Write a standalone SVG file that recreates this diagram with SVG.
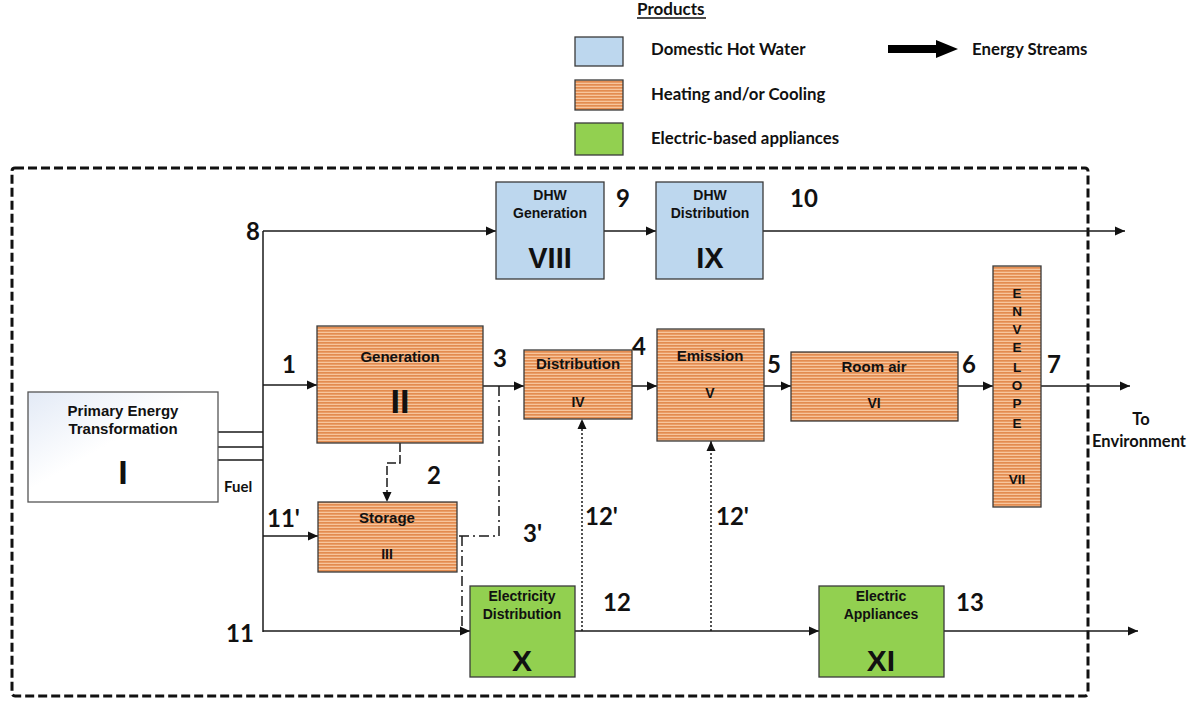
<svg xmlns="http://www.w3.org/2000/svg" width="1202" height="701" viewBox="0 0 1202 701">
<defs>
<pattern id="stripes" width="8" height="3" patternUnits="userSpaceOnUse">
<rect width="8" height="3" fill="#F7C59C"/>
<rect y="0" width="8" height="1.7" fill="#E38C50"/>
</pattern>
<linearGradient id="pgrad" x1="0" y1="0" x2="1" y2="1">
<stop offset="0" stop-color="#E3EAF6"/>
<stop offset="0.45" stop-color="#FFFFFF"/>
<stop offset="1" stop-color="#FFFFFF"/>
</linearGradient>
<marker id="arr" markerUnits="userSpaceOnUse" markerWidth="11" markerHeight="10" refX="10" refY="5" orient="auto">
<path d="M0,0.5 L10,5 L0,9.5 z" fill="#111"/>
</marker>
</defs>
<style>
.box{stroke:#3a3a3a;stroke-width:1.3}
.dhw{fill:#BDD7EE}
.heat{fill:url(#stripes)}
.elec{fill:#92D050}
.t{font-family:"Liberation Sans",Arial,sans-serif;font-weight:bold;fill:#111;text-anchor:middle}
.c{font-family:Lato,"Open Sans",sans-serif;font-weight:bold;fill:#111}
.n{font-family:Lato,"Open Sans",sans-serif;font-weight:bold;fill:#111;font-size:24px}
.ln{fill:none;stroke:#1a1a1a;stroke-width:1.5}
.dash{fill:none;stroke:#1a1a1a;stroke-width:1.5;stroke-dasharray:9 3}
.dashdot{fill:none;stroke:#1a1a1a;stroke-width:1.5;stroke-dasharray:10 4 2 4}
.dot{fill:none;stroke:#1a1a1a;stroke-width:1.5;stroke-dasharray:2 2}
</style>
<rect width="1202" height="701" fill="#FFFFFF"/>

<g id="legend">
<text class="c" x="637" y="15" font-size="17">Products</text>
<line x1="637" y1="18" x2="706" y2="18" stroke="#111" stroke-width="1.3"/>
<rect class="box dhw" x="575" y="37" width="48" height="29"/>
<rect class="box heat" x="575" y="80" width="48" height="30"/>
<rect class="box elec" x="575" y="123" width="48" height="32"/>
<text class="c" x="651" y="55" font-size="16.8">Domestic Hot Water</text>
<text class="c" x="651" y="100" font-size="16.8">Heating and/or Cooling</text>
<text class="c" x="651" y="144" font-size="16.8">Electric-based appliances</text>
<polygon points="888,45 936,45 936,40 958,49 936,58 936,53 888,53" fill="#000"/>
<text class="c" x="972" y="55" font-size="16.8">Energy Streams</text>
</g>

<rect id="boundary" x="12" y="168" width="1076" height="528" rx="3" fill="none" stroke="#111" stroke-width="3" stroke-dasharray="9 4"/>

<g id="connectors">
<path class="ln" d="M263,231 V632"/>
<path class="ln" d="M218,432 H263 M218,447 H263 M218,460 H263" stroke-width="2.6"/>
<path class="ln" d="M263,231 H496" marker-end="url(#arr)"/>
<path class="ln" d="M263,385 H317" marker-end="url(#arr)"/>
<path class="ln" d="M263,536 H318" marker-end="url(#arr)"/>
<path class="ln" d="M263,631 H470" marker-end="url(#arr)"/>
<path class="ln" d="M604,231 H656" marker-end="url(#arr)"/>
<path class="ln" d="M763,231 H1125" marker-end="url(#arr)"/>
<path class="ln" d="M483,386 H524" marker-end="url(#arr)"/>
<path class="ln" d="M632,386 H657" marker-end="url(#arr)"/>
<path class="ln" d="M764,386 H791" marker-end="url(#arr)"/>
<path class="ln" d="M958,386 H993" marker-end="url(#arr)"/>
<path class="ln" d="M1041,386 H1130" marker-end="url(#arr)"/>
<path class="dash" d="M400,443 V463 H387 V502" marker-end="url(#arr)"/>
<path class="dashdot" d="M499,386 V536 H457"/>
<path class="dashdot" d="M462,536 V631"/>
<path class="ln" d="M575,631 H819" marker-end="url(#arr)"/>
<path class="ln" d="M944,631 H1138" marker-end="url(#arr)"/>
<path class="dot" d="M582,631 V419" marker-end="url(#arr)"/>
<path class="dot" d="M711,631 V441" marker-end="url(#arr)"/>
</g>

<g id="node-I">
<rect x="28" y="392" width="190" height="110" fill="url(#pgrad)" stroke="#555" stroke-width="1.3"/>
<text class="t" x="123" y="416" font-size="15">Primary Energy</text>
<text class="t" x="123" y="434" font-size="15">Transformation</text>
<text class="t" x="123" y="484" font-size="34">I</text>
</g>

<g id="node-II">
<rect class="box heat" x="317" y="326" width="166" height="117"/>
<text class="t" x="400" y="362" font-size="15">Generation</text>
<text class="t" x="400" y="413" font-size="34">II</text>
</g>

<g id="node-III">
<rect class="box heat" x="318" y="502" width="139" height="70"/>
<text class="t" x="387" y="523" font-size="15">Storage</text>
<text class="t" x="387" y="559" font-size="14">III</text>
</g>

<g id="node-IV">
<rect class="box heat" x="524" y="350" width="108" height="69"/>
<text class="t" x="578" y="369" font-size="15">Distribution</text>
<text class="t" x="578" y="407" font-size="14">IV</text>
</g>

<g id="node-V">
<rect class="box heat" x="657" y="329" width="107" height="112"/>
<text class="t" x="710" y="361" font-size="15">Emission</text>
<text class="t" x="710" y="398" font-size="14">V</text>
</g>

<g id="node-VI">
<rect class="box heat" x="791" y="352" width="167" height="69"/>
<text class="t" x="874" y="372" font-size="15">Room air</text>
<text class="t" x="874" y="408" font-size="14">VI</text>
</g>

<g id="node-VII">
<rect class="box heat" x="993" y="266" width="48" height="241"/>
<text class="t" x="1017" y="298" font-size="13.5">E</text>
<text class="t" x="1017" y="316" font-size="13.5">N</text>
<text class="t" x="1017" y="334" font-size="13.5">V</text>
<text class="t" x="1017" y="352" font-size="13.5">E</text>
<text class="t" x="1017" y="372" font-size="13.5">L</text>
<text class="t" x="1017" y="390" font-size="13.5">O</text>
<text class="t" x="1017" y="408" font-size="13.5">P</text>
<text class="t" x="1017" y="428" font-size="13.5">E</text>
<text class="t" x="1017" y="484" font-size="13.5">VII</text>
</g>

<g id="node-VIII">
<rect class="box dhw" x="496" y="182" width="108" height="97"/>
<text class="t" x="550" y="200" font-size="14">DHW</text>
<text class="t" x="550" y="218" font-size="14">Generation</text>
<text class="t" x="550" y="268" font-size="29">VIII</text>
</g>

<g id="node-IX">
<rect class="box dhw" x="656" y="182" width="107" height="97"/>
<text class="t" x="710" y="200" font-size="14">DHW</text>
<text class="t" x="710" y="218" font-size="14">Distribution</text>
<text class="t" x="710" y="268" font-size="29">IX</text>
</g>

<g id="node-X">
<rect class="box elec" x="470" y="586" width="105" height="91"/>
<text class="t" x="522" y="601" font-size="14">Electricity</text>
<text class="t" x="522" y="619" font-size="14">Distribution</text>
<text class="t" x="522" y="671" font-size="30">X</text>
</g>

<g id="node-XI">
<rect class="box elec" x="819" y="586" width="125" height="91"/>
<text class="t" x="881" y="601" font-size="14">Electric</text>
<text class="t" x="881" y="619" font-size="14">Appliances</text>
<text class="t" x="881" y="671" font-size="30">XI</text>
</g>

<g id="labels">
<text class="n" x="246" y="240">8</text>
<text class="n" x="282" y="373">1</text>
<text class="n" x="427" y="484">2</text>
<text class="n" x="493" y="367">3</text>
<text class="n" x="632" y="355">4</text>
<text class="n" x="767" y="373">5</text>
<text class="n" x="962" y="373">6</text>
<text class="n" x="1047" y="373">7</text>
<text class="n" x="616" y="207">9</text>
<text class="n" x="790" y="207">10</text>
<text class="n" x="267" y="527">11'</text>
<text class="n" x="523" y="542">3'</text>
<text class="n" x="226" y="642">11</text>
<text class="n" x="585" y="525">12'</text>
<text class="n" x="716" y="525">12'</text>
<text class="n" x="603" y="611">12</text>
<text class="n" x="956" y="611">13</text>
<text class="c" x="224" y="492" font-size="15">Fuel</text>
<text class="c" x="1141" y="425" font-size="16.5" text-anchor="middle">To</text>
<text class="c" x="1139" y="447" font-size="16.5" text-anchor="middle">Environment</text>
</g>
</svg>
